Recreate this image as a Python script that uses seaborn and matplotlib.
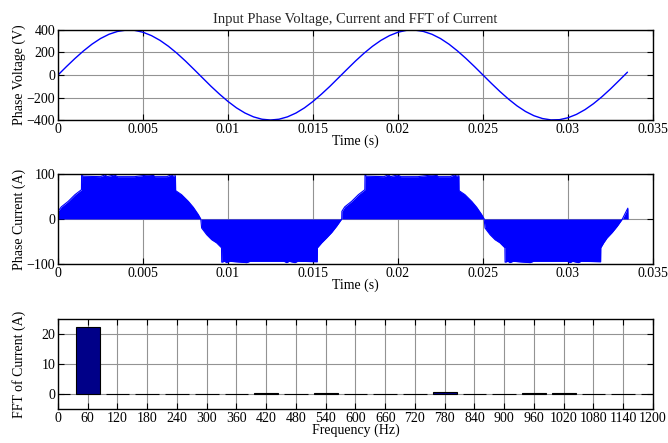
import matplotlib
matplotlib.use("Agg")
import matplotlib.pyplot as plt
import seaborn as sns
import pandas as pd

# voltage samples, every 0.5 ms
v_time = [k * 0.0005 for k in range(68)]
v_phase = [0, 75, 147, 214, 274, 324, 362, 387, 399, 397, 380, 350, 308, 255, 193, 124,
           50, -25, -100, -170, -235, -292, -338, -372, -393, -400, -393, -372, -338, -292,
           -235, -170, -100, -25, 50, 124, 193, 255, 308, 350, 380, 397, 399, 387, 362, 324,
           274, 214, 147, 75, 0, -75, -147, -214, -274, -324, -362, -387, -399, -397, -380,
           -350, -308, -255, -193, -124, -50, 25]

# envelope of the switched phase current
i_time = [0, 0.0002, 0.0006, 0.001, 0.00138, 0.00139, 0.0015, 0.0025, 0.00276, 0.0029,
          0.00331, 0.0035, 0.0045, 0.00555, 0.0057, 0.0064, 0.00665, 0.0068, 0.00691,
          0.00692, 0.00727, 0.00767, 0.00796, 0.00825, 0.0084, 0.00845, 0.00875, 0.00904,
          0.00933, 0.00962, 0.00963, 0.0098, 0.00992, 0.0101, 0.0111, 0.0113, 0.0133,
          0.01345, 0.0136, 0.01394, 0.0141, 0.01525, 0.01526, 0.01551, 0.0158, 0.0161,
          0.01639, 0.01669,
          0.0167, 0.01687, 0.01727, 0.01767, 0.01805, 0.01806, 0.01817, 0.01917, 0.01943,
          0.01957, 0.01998, 0.02017, 0.02117, 0.02222, 0.02237, 0.02307, 0.02332, 0.02347,
          0.02358, 0.02359, 0.02394, 0.02434, 0.02463, 0.02492, 0.02507, 0.02512, 0.02542,
          0.02571, 0.026, 0.02629, 0.0263, 0.02647, 0.02659, 0.02677, 0.02777, 0.02797,
          0.02997, 0.03012, 0.03027, 0.03061, 0.03077, 0.03192, 0.03193, 0.0321, 0.0323,
          0.0326, 0.0329, 0.0332, 0.0334, 0.03352, 0.03353]
i_phase = [17, 27, 39, 54, 65, 97, 95, 94, 98, 94,
           98, 94, 94, 99, 94, 94, 98, 95, 96,
           63, 54, 39, 26, 10, 0, -20, -35, -46,
           -53, -64, -96, -94, -97, -94, -97, -94, -94,
           -97, -94, -97, -94, -95, -64, -53, -42, -30,
           -16, 0,
           17, 27, 39, 54, 65, 97, 95, 94, 98,
           94, 98, 94, 94, 99, 94, 94, 98, 95,
           96, 63, 54, 39, 26, 10, 0, -20, -35,
           -46, -53, -64, -96, -94, -97, -94, -97, -94,
           -94, -97, -94, -97, -94, -95, -64, -53, -42,
           -30, -16, 0, 15, 24, 0]

# FFT magnitude of the current
fft_freq = list(range(0, 1260, 60))
fft_mag = [0.05, 22.2, 0.05, 0.1, 0.05, 0.1, 0.05, 0.3, 0.05, 0.25, 0.05, 0.1, 0.05,
           0.6, 0.05, 0.1, 0.3, 0.3, 0.05, 0.1, 0.05]

t_ticks = [0, 0.005, 0.01, 0.015, 0.02, 0.025, 0.03, 0.035]
t_labels = ["0", "0.005", "0.01", "0.015", "0.02", "0.025", "0.03", "0.035"]

sns.set_theme(style="ticks")
plt.rcParams["font.family"] = ["Liberation Serif", "DejaVu Serif"]
plt.rcParams["axes.linewidth"] = 1.0
plt.rcParams["xtick.direction"] = "in"
plt.rcParams["ytick.direction"] = "in"
plt.rcParams["xtick.top"] = True
plt.rcParams["ytick.right"] = True
plt.rcParams["xtick.major.size"] = 4
plt.rcParams["ytick.major.size"] = 4

fig = plt.figure(figsize=(6.68, 4.43), dpi=100)
ax1 = fig.add_axes([0.0868, 0.7291, 0.8907, 0.2032])
ax2 = fig.add_axes([0.0868, 0.4041, 0.8907, 0.2032])
ax3 = fig.add_axes([0.0868, 0.0767, 0.8907, 0.2032])

lab = dict(fontsize=10, color="black")
grid = dict(color="#939393", linewidth=0.8)

# voltage
vdf = pd.DataFrame({"t": v_time, "v": v_phase})
sns.lineplot(data=vdf, x="t", y="v", ax=ax1, color="#0000ff", linewidth=1.0)
ax1.set_xlim(0, 0.035)
ax1.set_ylim(-400, 400)
ax1.set_yticks([-400, -200, 0, 200, 400])
ax1.set_title("Input Phase Voltage, Current and FFT of Current", fontsize=10.5, pad=5)
ax1.set_ylabel("Phase Voltage (V)", **lab)

# current
idf = pd.DataFrame({"t": i_time, "i": i_phase})
ax2.fill_between(idf["t"], 0, idf["i"], color="#0000ff", linewidth=0)
sns.lineplot(data=idf, x="t", y="i", ax=ax2, color="#0000ff", linewidth=0.8)
ax2.set_xlim(0, 0.035)
ax2.set_ylim(-100, 100)
ax2.set_yticks([-100, 0, 100])
ax2.set_ylabel("Phase Current (A)", **lab)

for ax in (ax1, ax2):
    ax.set_xticks(t_ticks)
    ax.set_xticklabels(t_labels)
    ax.set_xlabel("Time (s)", labelpad=-1, **lab)

# fft
fdf = pd.DataFrame({"f": fft_freq, "m": fft_mag})
sns.barplot(data=fdf, x="f", y="m", ax=ax3, native_scale=True, width=0.8,
            color="#000088", saturation=1, edgecolor="black", linewidth=0.8)
ax3.set_xlim(0, 1200)
ax3.set_ylim(-5, 25)
ax3.set_xticks(fft_freq)
ax3.set_xticklabels([str(f) for f in fft_freq])
ax3.set_yticks([0, 10, 20])
ax3.set_xlabel("Frequency (Hz)", labelpad=-1, **lab)
ax3.set_ylabel("FFT of Current (A)", **lab)

for ax in (ax1, ax2, ax3):
    ax.grid(True, **grid)
    ax.set_axisbelow(True)
    ax.tick_params(labelsize=10, colors="black", width=0.8, pad=2)
    ax.yaxis.set_label_coords(-0.053, 0.5)
    for s in ax.spines.values():
        s.set_color("black")
        s.set_visible(True)

fig.savefig("out.png", dpi=100)
